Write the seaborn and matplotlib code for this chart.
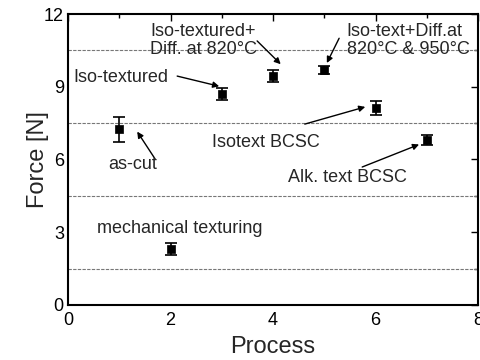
import matplotlib
matplotlib.use("Agg")
import matplotlib.pyplot as plt
import seaborn as sns
import pandas as pd

process = [1, 2, 3, 4, 5, 6, 7]
force = [7.25, 2.30, 8.69, 9.45, 9.70, 8.12, 6.80]
force_err = [0.52, 0.24, 0.24, 0.25, 0.17, 0.30, 0.21]

labels = ["as-cut", "mechanical texturing", "Iso-textured",
          "Iso-textured+\nDiff. at 820°C", "Iso-text+Diff.at\n820°C & 950°C",
          "Isotext BCSC", "Alk. text BCSC"]
label_xy = [(0.78, 5.80), (0.57, 3.17), (0.10, 9.40), (1.60, 10.9), (5.44, 10.9),
            (2.80, 6.70), (4.30, 5.24)]
arrow_tail = [(1.70, 6.02), None, (2.13, 9.44), (3.69, 10.89), (5.29, 11.0),
              (4.62, 7.46), (5.74, 5.69)]
arrow_head = [(1.35, 7.15), None, (2.95, 9.02), (4.15, 9.93), (5.05, 9.98),
              (5.80, 8.17), (6.85, 6.62)]

sns.set_theme(style="white")
plt.rcParams['font.family'] = ['Liberation Sans', 'DejaVu Sans']

df = pd.DataFrame({"Process": process, "Force": force, "err": force_err})

fig = plt.figure(figsize=(4.81, 3.6), dpi=100)
ax = fig.add_axes([0.1414, 0.1528, 0.8524, 0.8083])

ax.errorbar(df["Process"], df["Force"], yerr=df["err"], fmt='none',
            ecolor='black', elinewidth=1.2, capsize=4, capthick=1.2, zorder=3)
sns.scatterplot(data=df, x="Process", y="Force", marker='s', s=40,
                color='black', edgecolor='black', ax=ax, zorder=4)

ax.set_xlim(0, 8)
ax.set_ylim(0, 12)
ax.set_xticks([0, 2, 4, 6, 8])
ax.set_xticks([1, 3, 5, 7], minor=True)
ax.set_yticks([0, 3, 6, 9, 12])
ax.set_yticks([1.5, 4.5, 7.5, 10.5], minor=True)
ax.tick_params(which='both', direction='in', top=True, right=True,
               labelsize=13, colors='black', width=1.0)
ax.tick_params(which='major', length=5, pad=3)
ax.tick_params(axis='x', which='major', pad=5)
ax.tick_params(which='minor', length=3)
for y in [1.5, 4.5, 7.5, 10.5]:
    ax.axhline(y, color='#777777', lw=0.8, ls=(0, (3, 1.2)), zorder=1)
for s in ax.spines.values():
    s.set_color('black')
    s.set_linewidth(1.5)

ax.set_xlabel("Process", fontsize=17, labelpad=5)
ax.set_ylabel("Force [N]", fontsize=17, labelpad=-4)

for lab, (lx, ly), t, h in zip(labels, label_xy, arrow_tail, arrow_head):
    ax.text(lx, ly, lab, fontsize=13, va='center', ha='left', linespacing=1.1,
            zorder=5)
    if t is not None:
        ax.annotate("", xy=h, xytext=t,
                    arrowprops=dict(arrowstyle='-|>', color='black', lw=1.0,
                                    mutation_scale=9, shrinkA=0, shrinkB=0))

fig.savefig("out.png", dpi=100)
